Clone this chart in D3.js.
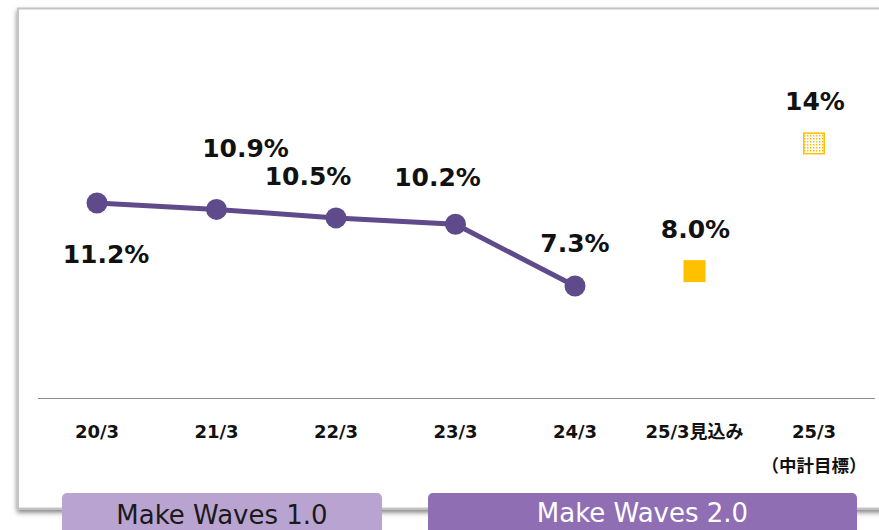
<!DOCTYPE html>
<html>
<head>
<meta charset="utf-8">
<script src="https://cdn.jsdelivr.net/npm/d3@7"></script>
<style>
  body { margin: 0; background: #fff; }
  svg { display: block; }
</style>
</head>
<body>
<div id="chart"></div>
<script>
var categories = ["20/3", "21/3", "22/3", "23/3", "24/3", "25/3見込み", "25/3"]
var subLabels = ["", "", "", "", "", "", "（中計目標）"]
var actualValues = [11.2, 10.9, 10.5, 10.2, 7.3]
var forecastValue = 8.0
var targetValue = 14
var phases = ["Make Waves 1.0", "Make Waves 2.0"]

var width = 879
var height = 530

var svg = d3.select('#chart').append('svg')
  .attr("width", width)
  .attr("height", height)

var defs = svg.append('defs')
var shadow = defs.append('filter').attr("id", "shadow")
  .attr("x", "-5%").attr("y", "-5%").attr("width", "110%").attr("height", "115%")
shadow.append('feDropShadow')
  .attr("dx", 0).attr("dy", 3).attr("stdDeviation", 2.5)
  .attr("flood-color", "#000").attr("flood-opacity", 0.5)

var dots = defs.append('pattern').attr("id", "dots")
  .attr("width", 3).attr("height", 3).attr("patternUnits", "userSpaceOnUse")
dots.append('rect').attr("width", 3).attr("height", 3).attr("fill", "#fff")
dots.append('rect').attr("width", 1.5).attr("height", 1.5).attr("fill", "#ffc000")

// frame
svg.append('rect')
  .attr("x", 18).attr("y", 8.5)
  .attr("width", 880).attr("height", 500)
  .attr("fill", "#fff")
  .attr("stroke", "#c4c4c4")
  .attr("stroke-width", 2)
  .attr("filter", "url(#shadow)")

var x = d3.scalePoint().domain(categories).range([97, 814])
var y = d3.scaleLinear().domain([6, 14]).range([313.7, 143.4])

// baseline
svg.append('line')
  .attr("x1", 38).attr("x2", 875)
  .attr("y1", 398.5).attr("y2", 398.5)
  .attr("stroke", "#8c8c8c").attr("stroke-width", 1)

var axisG = svg.append('g').attr("class", "axis")
axisG.selectAll('.cat')
  .data(categories)
  .enter().append('text')
  .attr("x", d => x(d))
  .attr("y", 438)
  .attr("text-anchor", "middle")
  .style("font-family", "'DejaVu Sans', 'Noto Sans CJK JP', sans-serif")
  .style("font-weight", "bold")
  .style("font-size", "18px")
  .attr("fill", "#111")
  .text(d => d)

axisG.selectAll('.sub')
  .data(subLabels)
  .enter().append('text')
  .attr("x", (d, i) => x(categories[i]))
  .attr("y", 472)
  .attr("text-anchor", "middle")
  .style("font-family", "'Noto Sans CJK JP', sans-serif")
  .style("font-weight", "bold")
  .style("font-size", "17.5px")
  .attr("fill", "#111")
  .text(d => d)

var actual = actualValues.map((v, i) => ({ cat: categories[i], value: v }))

var line = d3.line().x(d => x(d.cat)).y(d => y(d.value))

svg.append('path')
  .datum(actual)
  .attr("d", line)
  .attr("fill", "none")
  .attr("stroke", "#5f4a8b")
  .attr("stroke-width", 5)

svg.selectAll('.pt')
  .data(actual)
  .enter().append('circle')
  .attr("cx", d => x(d.cat))
  .attr("cy", d => y(d.value))
  .attr("r", 10.5)
  .attr("fill", "#5f4a8b")

// forecast + target squares
var sq = 22
svg.append('rect')
  .attr("x", x(categories[5]) - sq / 2)
  .attr("y", y(forecastValue) - sq / 2)
  .attr("width", sq).attr("height", sq)
  .attr("fill", "#ffc000")

svg.append('rect')
  .attr("x", x(categories[6]) - sq / 2 + 0.75)
  .attr("y", y(targetValue) - sq / 2 + 0.75)
  .attr("width", sq - 1.5).attr("height", sq - 1.5)
  .attr("fill", "url(#dots)")
  .attr("stroke", "#ffc000")
  .attr("stroke-width", 1.5)

// value labels (offsets in px from the marker)
var labelOffsets = [[9, 60], [29, -52], [-28, -33], [-18, -38], [0, -34], [1, -33], [1, -33]]
var labelData = actual.concat([
  { cat: categories[5], value: forecastValue },
  { cat: categories[6], value: targetValue }
])

svg.selectAll('.val')
  .data(labelData)
  .enter().append('text')
  .attr("x", (d, i) => x(d.cat) + labelOffsets[i][0])
  .attr("y", (d, i) => y(d.value) + labelOffsets[i][1])
  .attr("text-anchor", "middle")
  .style("font-family", "'DejaVu Sans', sans-serif")
  .style("font-weight", "bold")
  .style("font-size", "25px")
  .attr("fill", "#111")
  .text(d => d.cat == "25/3" ? d.value + "%" : d.value.toFixed(1) + "%")

// phase boxes
var phaseBoxes = [
  { name: phases[0], x0: 62, x1: 382, fill: "#b9a4d1", color: "#1a1a1a", base: 524 },
  { name: phases[1], x0: 428, x1: 857, fill: "#8f6eb4", color: "#fff", base: 522 }
]

var pg = svg.selectAll('.phase')
  .data(phaseBoxes)
  .enter().append('g')

pg.append('rect')
  .attr("x", d => d.x0).attr("y", 493)
  .attr("width", d => d.x1 - d.x0).attr("height", 50)
  .attr("rx", 5)
  .attr("fill", d => d.fill)

pg.append('text')
  .attr("x", d => (d.x0 + d.x1) / 2)
  .attr("y", d => d.base)
  .attr("text-anchor", "middle")
  .style("font-family", "'DejaVu Sans', sans-serif")
  .style("font-size", "26px")
  .attr("fill", d => d.color)
  .text(d => d.name)
</script>
</body>
</html>
